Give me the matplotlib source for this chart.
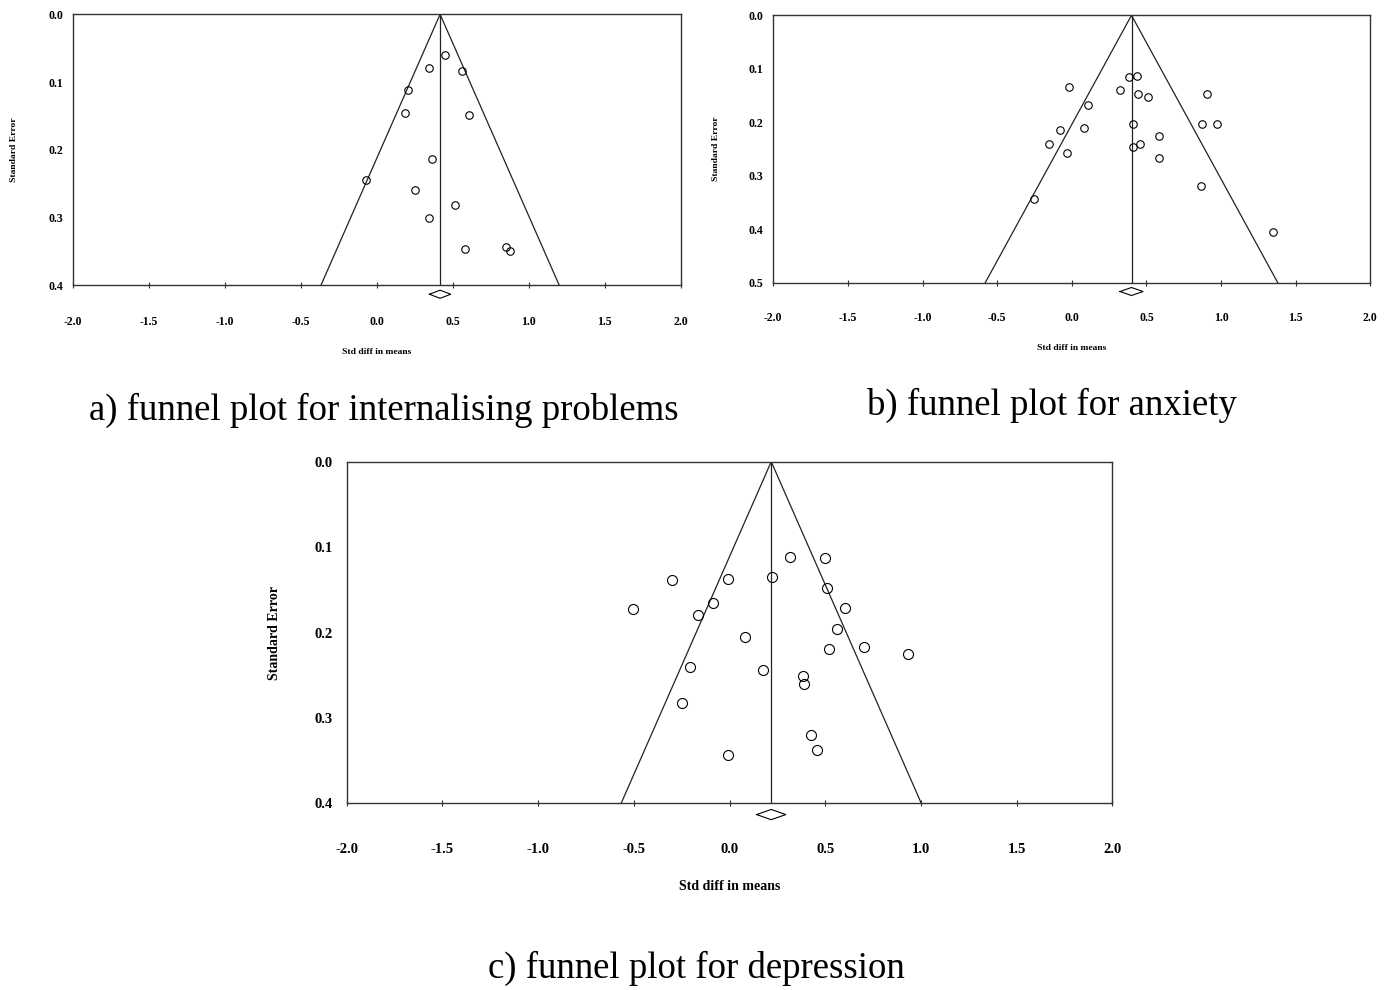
import matplotlib
matplotlib.use("Agg")
import matplotlib.pyplot as plt
import numpy as np

W, H = 1390, 990
plt.rcParams['font.family'] = ['Liberation Serif', 'DejaVu Serif']

# ---- data ----
a_effect = [0.449, 0.344, 0.558, 0.203, 0.188, 0.605, 0.367, -0.073, 0.253,
            0.517, 0.341, 0.584, 0.852, 0.878]
a_se = [0.060, 0.079, 0.083, 0.112, 0.146, 0.148, 0.213, 0.245, 0.259,
        0.282, 0.300, 0.347, 0.343, 0.349]
a_summary = 0.417
a_ci_half = 0.07
a_max_se = 0.4
a_yticks = [0.0, 0.1, 0.2, 0.3, 0.4]

b_effect = [0.382, 0.438, -0.022, 0.320, 0.444, 0.511, 0.906, 0.111, 0.411,
            0.874, 0.971, 0.081, -0.078, 0.582, -0.152, 0.458, 0.411, -0.034,
            0.582, 0.865, -0.252, 1.346]
b_se = [0.115, 0.113, 0.135, 0.140, 0.148, 0.153, 0.148, 0.167, 0.203,
        0.203, 0.204, 0.211, 0.214, 0.226, 0.241, 0.241, 0.247, 0.258,
        0.267, 0.319, 0.344, 0.405]
b_summary = 0.40
b_ci_half = 0.077
b_max_se = 0.5
b_yticks = [0.0, 0.1, 0.2, 0.3, 0.4, 0.5]

c_effect = [-0.503, -0.298, -0.007, -0.087, -0.164, 0.080, -0.204, -0.247,
            -0.008, 0.314, 0.501, 0.223, 0.508, 0.604, 0.564, 0.522, 0.702,
            0.932, 0.175, 0.382, 0.391, 0.426, 0.457]
c_se = [0.173, 0.139, 0.137, 0.166, 0.180, 0.205, 0.240, 0.283, 0.344,
        0.112, 0.113, 0.135, 0.148, 0.171, 0.196, 0.219, 0.217, 0.225,
        0.244, 0.251, 0.260, 0.320, 0.338]
c_summary = 0.218
c_ci_half = 0.076
c_max_se = 0.4
c_yticks = [0.0, 0.1, 0.2, 0.3, 0.4]

xticks = [-2.0, -1.5, -1.0, -0.5, 0.0, 0.5, 1.0, 1.5, 2.0]
xlabel = "Std diff in means"
ylabel = "Standard Error"
captions = ["a) funnel plot for internalising problems",
            "b) funnel plot for anxiety",
            "c) funnel plot for depression"]

fig = plt.figure(figsize=(W / 100, H / 100), dpi=100)


def px_rect(l, t, r, b):
    return [l / W, 1 - b / H, (r - l) / W, (b - t) / H]


def funnel(rect, eff, se, summ, ci_half, max_se, yticks, fs_tick, fs_lab,
           ms, xpad, ypad, xlab_y, ylab_x, diamond_h):
    ax = fig.add_axes(px_rect(*rect))
    ax.set_xlim(-2, 2)
    ax.set_ylim(max_se, 0)
    ax.set_xticks(xticks)
    ax.set_xticklabels([f"{v:.1f}" for v in xticks], fontweight='bold',
                       fontsize=fs_tick)
    ax.set_yticks(yticks)
    ax.set_yticklabels([f"{v:.1f}" for v in yticks], fontweight='bold',
                       fontsize=fs_tick)
    ax.tick_params(axis='x', direction='inout', length=5, width=0.8,
                   pad=xpad, color='#333333')
    ax.tick_params(axis='y', length=0, pad=ypad)
    for s in ax.spines.values():
        s.set_color('#333333')
        s.set_linewidth(1.0)
    # funnel (pseudo 95% limits)
    ax.plot([summ - 1.96 * max_se, summ, summ + 1.96 * max_se],
            [max_se, 0, max_se], color='#222222', lw=0.9)
    ax.plot([summ, summ], [0, max_se], color='#222222', lw=0.9)
    ax.plot(eff, se, linestyle='none', marker='o', markerfacecolor='none',
            markeredgecolor='black', markeredgewidth=0.8, markersize=ms)
    # summary diamond below the axis
    yc = max_se + diamond_h * 1.1
    ax.plot([summ - ci_half, summ, summ + ci_half, summ, summ - ci_half],
            [yc, yc - diamond_h / 2, yc, yc + diamond_h / 2, yc],
            color='black', lw=0.8, clip_on=False)
    ax.set_xlabel(xlabel, fontweight='bold', fontsize=fs_lab)
    ax.set_ylabel(ylabel, fontweight='bold', fontsize=fs_lab)
    ax.xaxis.set_label_coords(((rect[0] + rect[2]) / 2) / W, 1 - xlab_y / H,
                              transform=fig.transFigure)
    ax.yaxis.set_label_coords(ylab_x / W, 1 - ((rect[1] + rect[3]) / 2) / H,
                              transform=fig.transFigure)
    ax.xaxis.label.set_va('center')
    ax.yaxis.label.set_va('center')
    return ax


funnel((72.7, 14.3, 680.7, 285.3), a_effect, a_se, a_summary, a_ci_half,
       a_max_se, a_yticks, 8.5, 6.8, 5.4, 19.5, 7, 352, 14, 0.012)
funnel((773.3, 15.3, 1370.3, 282.7), b_effect, b_se, b_summary, b_ci_half,
       b_max_se, b_yticks, 8.5, 6.8, 5.4, 18.5, 7, 348, 716, 0.015)
funnel((346.7, 461.7, 1112.3, 803.3), c_effect, c_se, c_summary, c_ci_half,
       c_max_se, c_yticks, 10.5, 10, 7.2, 26, 10, 887, 275, 0.012)

fig.text(384 / W, 1 - 410 / H, captions[0], fontsize=26.5, ha='center',
         va='center')
fig.text(1052 / W, 1 - 405 / H, captions[1], fontsize=26.5, ha='center',
         va='center')
fig.text(696 / W, 1 - 968 / H, captions[2], fontsize=26.5, ha='center',
         va='center')

fig.savefig("out.png", dpi=100)
